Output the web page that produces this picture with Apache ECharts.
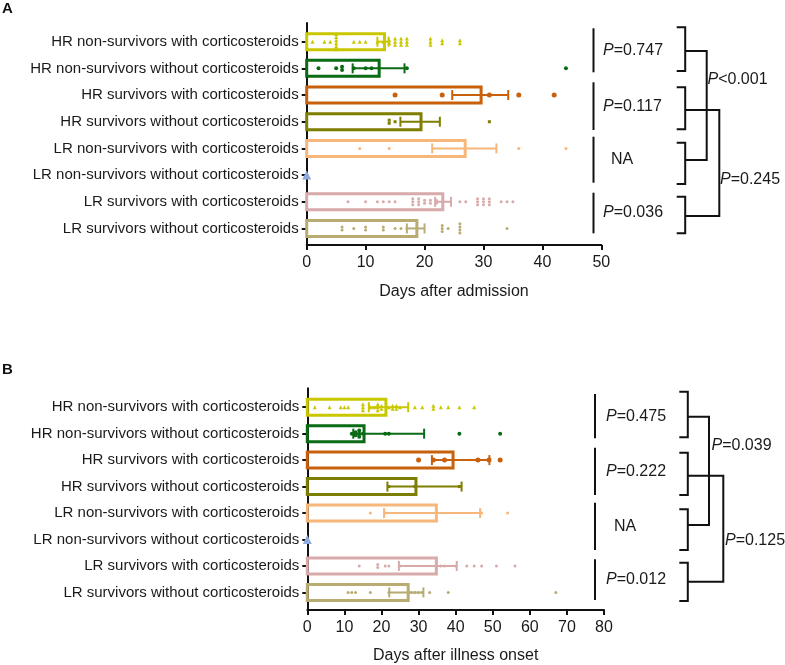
<!DOCTYPE html>
<html>
<head>
<meta charset="utf-8">
<script src="https://cdn.jsdelivr.net/npm/echarts@6.0.0/dist/echarts.min.js"></script>
<style>
html, body { margin: 0; padding: 0; background: #fff; }
#main { width: 785px; height: 665px; }
</style>
</head>
<body>
<div id="main"></div>
<script>
var categories = [
    'HR non-survivors with corticosteroids',
    'HR non-survivors without corticosteroids',
    'HR survivors with corticosteroids',
    'HR survivors without corticosteroids',
    'LR non-survivors with corticosteroids',
    'LR non-survivors without corticosteroids',
    'LR survivors with corticosteroids',
    'LR survivors without corticosteroids'
];
var groupColors = ['#C9C800', '#0B6A14', '#C8600C', '#7E7E00', '#F7B67A', '#8EABDC', '#D8AAAA', '#B8AC72'];
var groupSymbols = ['triangle', 'circle', 'circle', 'rect', 'circle', 'triangle', 'circle', 'circle'];
var groupSizes = [4, 4, 5, 3, 3, 9, 3, 3];

// A: days after admission
var xTicksA = [0, 50, 10];
var medianA = [13.2, 12.3, 29.6, 19.4, 26.9, 0, 23.1, 18.7];
var lowA = [12.0, 7.8, 24.7, 15.9, 21.3, null, 21.8, 17.0];
var highA = [13.9, 16.6, 34.2, 22.6, 32.2, null, 24.5, 20.0];
var pointsA = [
    [1, 3, 4, 5, 5, 5, 5, 5, 5, 8, 9, 10, 12, 13, 14, 14, 15, 15, 15, 16, 16, 16, 17, 17, 17, 21, 21, 21, 23, 23, 26, 26],
    [2, 5, 6, 6, 8, 10, 11, 17, 44],
    [15, 23, 31, 36, 42],
    [14, 14, 15, 31],
    [9, 14, 36, 44],
    [0],
    [7, 10, 12, 13, 14, 15, 18, 18, 18, 19, 19, 19, 20, 20, 21, 21, 22, 22, 26, 27, 29, 29, 29, 30, 30, 30, 31, 31, 31, 33, 34, 35],
    [6, 6, 8, 10, 10, 13, 13, 15, 16, 17, 23, 23, 23, 24, 26, 26, 26, 26, 34]
];

// B: days after illness onset
var xTicksB = [0, 80, 10];
var medianB = [21.2, 15.3, 39.3, 29.3, 34.8, 0, 34.8, 27.2];
var lowB = [16.6, 12.4, 33.6, 21.6, 20.7, null, 24.7, 22.1];
var highB = [27.2, 31.5, 49.1, 41.6, 46.6, null, 40.3, 31.3];
var pointsB = [
    [2, 6, 9, 10, 11, 15, 15, 15, 17, 18, 19, 19, 19, 20, 20, 22, 23, 23, 24, 24, 25, 29, 31, 34, 34, 36, 38, 41, 45],
    [12, 13, 13, 14, 14, 14, 15, 21, 22, 41, 52],
    [30, 34, 37, 46, 49, 52],
    [22, 29, 41],
    [17, 21, 47, 54],
    [0],
    [14, 19, 19, 21, 22, 25, 36, 37, 40, 43, 45, 47, 51, 56],
    [11, 12, 13, 17, 22, 28, 29, 30, 31, 33, 38, 67]
];

var pTextA = ['=0.747', '=0.117', 'NA', '=0.036'];
var pPairA = ['<0.001', '=0.245'];
var pTextB = ['=0.475', '=0.222', 'NA', '=0.012'];
var pPairB = ['=0.039', '=0.125'];

var chart = echarts.init(document.getElementById('main'));
var font = 'Liberation Sans, Arial, sans-serif';

// same values get stacked vertically like a scatter dot plot
function spread(vals, idx, step) {
    var counts = {}, seen = {}, out = [];
    vals.forEach(function (v) { counts[v] = (counts[v] || 0) + 1; });
    vals.forEach(function (v) {
        var k = seen[v] || 0;
        seen[v] = k + 1;
        out.push([v, idx + (k - (counts[v] - 1) / 2) * step]);
    });
    return out;
}

function panelSeries(p, medians, lows, highs, points) {
    var list = [];
    for (let g = 0; g < categories.length; g++) {
        list.push({
            type: 'scatter', xAxisIndex: p, yAxisIndex: p,
            symbol: groupSymbols[g], symbolSize: groupSizes[g],
            itemStyle: { color: groupColors[g], opacity: 1 },
            data: spread(points[g], g, 0.115), z: 2, silent: true
        });
    }
    list.push({
        type: 'custom', xAxisIndex: p, yAxisIndex: p, z: 3,
        encode: { x: 0, y: 1 },
        data: medians.map(function (m, i) { return [m, i]; }),
        renderItem: function (params, api) {
            var v = api.value(0);
            if (!v) return null;
            var a = api.coord([0, api.value(1)]);
            var b = api.coord([v, api.value(1)]);
            return {
                type: 'rect',
                shape: { x: a[0], y: a[1] - 8, width: b[0] - a[0], height: 16 },
                style: { fill: 'none', stroke: groupColors[params.dataIndex], lineWidth: 3 }
            };
        }
    });
    var err = [];
    lows.forEach(function (l, i) { if (l !== null) err.push([l, highs[i], i]); });
    list.push({
        type: 'custom', xAxisIndex: p, yAxisIndex: p, z: 4,
        encode: { x: [0, 1], y: 2 },
        data: err,
        renderItem: function (params, api) {
            var a = api.coord([api.value(0), api.value(2)]);
            var b = api.coord([api.value(1), api.value(2)]);
            var c = groupColors[api.value(2)];
            var st = { stroke: c, lineWidth: 2 };
            return {
                type: 'group',
                children: [
                    { type: 'line', shape: { x1: a[0], y1: a[1], x2: b[0], y2: b[1] }, style: st },
                    { type: 'line', shape: { x1: a[0], y1: a[1] - 5, x2: a[0], y2: a[1] + 5 }, style: st },
                    { type: 'line', shape: { x1: b[0], y1: b[1] - 5, x2: b[0], y2: b[1] + 5 }, style: st }
                ]
            };
        }
    });
    return list;
}

function xAxisFor(p, ticks, name, gap) {
    return {
        type: 'value', gridIndex: p, min: ticks[0], max: ticks[1], interval: ticks[2],
        name: name, nameLocation: 'middle', nameGap: gap,
        nameTextStyle: { fontFamily: font, fontSize: 16, color: '#1a1a1a' },
        axisLine: { show: true, onZero: false, lineStyle: { color: '#111', width: 2 } },
        axisTick: { show: true, length: 5, lineStyle: { color: '#111', width: 2 } },
        axisLabel: { fontFamily: font, fontSize: 16, color: '#1a1a1a', margin: 10 },
        splitLine: { show: false }
    };
}

function yAxisFor(p, min, max) {
    var idx = categories.map(function (c, i) { return i; });
    return {
        type: 'value', gridIndex: p, inverse: true, min: min, max: max,
        axisLine: { show: true, onZero: false, lineStyle: { color: '#111', width: 2 } },
        axisTick: { show: true, length: 5, customValues: idx, lineStyle: { color: '#111', width: 2 } },
        axisLabel: {
            customValues: idx, fontFamily: font, fontSize: 15, color: '#1a1a1a', margin: 8,
            formatter: function (v) { return categories[Math.round(v)]; }
        },
        splitLine: { show: false }
    };
}

function line(x1, y1, x2, y2) {
    return { type: 'line', shape: { x1: x1, y1: y1, x2: x2, y2: y2 }, style: { stroke: '#111', lineWidth: 2 } };
}
function poly(pts) {
    return { type: 'polyline', shape: { points: pts }, style: { stroke: '#111', lineWidth: 2, fill: null } };
}
function ptext(txt, x, y, align) {
    var t = txt === 'NA' ? 'NA' : '{i|P}' + txt;
    return {
        type: 'text', x: x, y: y,
        style: {
            text: t, fontFamily: font, fontSize: 16, fill: '#1a1a1a',
            align: align || 'left', verticalAlign: 'middle',
            rich: { i: { fontStyle: 'italic', fontFamily: font, fontSize: 16, fill: '#1a1a1a' } }
        }
    };
}

// bracket annotations, pixel layout
function annotations(vx, segs, bx, brs, mids, c1, c2, labels, lx, pairs, pairPos) {
    var els = [];
    segs.forEach(function (s) { els.push(line(vx, s[0], vx, s[1])); });
    brs.forEach(function (b) { els.push(poly([[bx, b[0]], [bx + 8.5, b[0]], [bx + 8.5, b[1]], [bx, b[1]]])); });
    var ex = bx + 8.5;
    els.push(poly([[ex, mids[0]], [c1, mids[0]], [c1, mids[2]], [ex, mids[2]]]));
    els.push(poly([[ex, mids[1]], [c2, mids[1]], [c2, mids[3]], [ex, mids[3]]]));
    labels.forEach(function (t, i) {
        var y = (segs[i][0] + segs[i][1]) / 2;
        if (t === 'NA') els.push(ptext(t, lx + 19, y, 'center'));
        else els.push(ptext(t, lx, y));
    });
    els.push(ptext(pairs[0], pairPos[0][0], pairPos[0][1]));
    els.push(ptext(pairs[1], pairPos[1][0], pairPos[1][1]));
    return els;
}

var graphics = [
    { type: 'text', x: 2, y: 1, style: { text: 'A', fontFamily: font, fontSize: 15, fontWeight: 'bold', fill: '#111' } },
    { type: 'text', x: 2, y: 362, style: { text: 'B', fontFamily: font, fontSize: 15, fontWeight: 'bold', fill: '#111' } }
].concat(
    annotations(593.5,
        [[28.3, 72.3], [82.3, 130], [136.7, 182.7], [192.7, 233.3]],
        676.7,
        [[27.3, 71], [87.3, 129.3], [142.7, 184], [196.7, 233.3]],
        [51, 110, 160, 216], 706.7, 719.3,
        pTextA, 603, pPairA, [[707.5, 80], [720, 180]]),
    annotations(595,
        [[394, 438.3], [447.7, 495], [502.7, 550], [559.3, 600]],
        679.3,
        [[391.7, 437.3], [452.7, 495], [509.3, 550], [562.7, 601]],
        [416.7, 475.7, 525, 581.7], 709, 723.3,
        pTextB, 606, pPairB, [[711.5, 446], [725, 541]])
);

chart.setOption({
    backgroundColor: '#fff',
    animation: false,
    grid: [
        { left: 306.7, top: 23, width: 294.6, height: 222 },
        { left: 307.3, top: 388.3, width: 296.7, height: 222.7 }
    ],
    xAxis: [
        xAxisFor(0, xTicksA, 'Days after admission', 39),
        xAxisFor(1, xTicksB, 'Days after illness onset', 38)
    ],
    yAxis: [
        yAxisFor(0, -0.7, 7.62),
        yAxisFor(1, -0.715, 7.666)
    ],
    series: panelSeries(0, medianA, lowA, highA, pointsA)
        .concat(panelSeries(1, medianB, lowB, highB, pointsB)),
    graphic: graphics
});
</script>
</body>
</html>
